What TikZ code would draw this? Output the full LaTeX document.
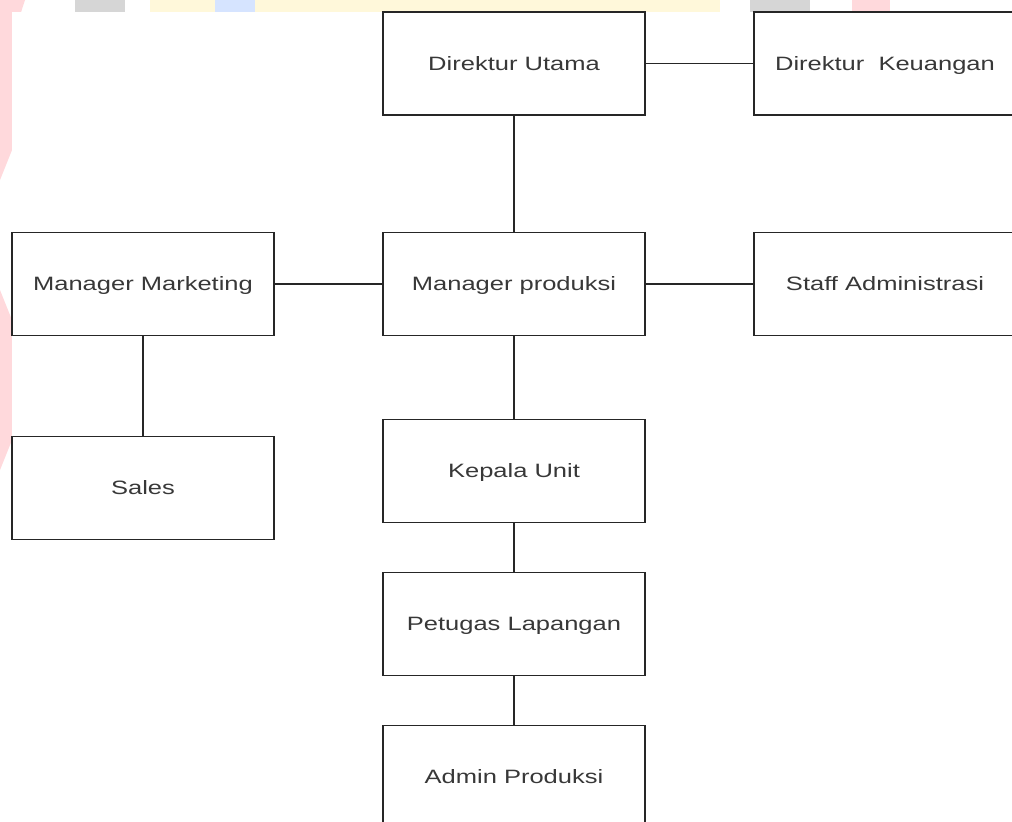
\documentclass[tikz,border=0pt]{standalone}
\usepackage{fontspec}
\setmainfont{Liberation Sans}
\newfontfamily\orgfont[FakeStretch=1.32]{Liberation Sans}
\usepackage{tikz}

\definecolor{wmpink}{HTML}{FFD9DC}
\definecolor{wmyellow}{HTML}{FFF8DA}
\definecolor{wmblue}{HTML}{D6E4FF}
\definecolor{wmgray}{HTML}{D6D6D6}

\tikzset{
    jabatan/.style={draw=black!85, line width=1.1pt, fill=white,
        minimum width=5.24cm, minimum height=2.06cm, inner sep=0pt,
        text height=7.9pt, text depth=0pt,
        font=\orgfont\fontsize{11}{13}\selectfont, text=black!78},
    garis/.style={line width=1.1pt, draw=black!85}
}

\begin{document}
\begin{tikzpicture}[x=0.02cm, y=-0.02cm]
        % Canvas
        \useasboundingbox (0,0) rectangle (1012,822);
        \fill[white] (0,0) rectangle (1012,822);

        % Watermark showing at the margins
        \fill[wmpink] (0,0) -- (25,0) -- (12,40) -- (12,150) -- (0,180) -- cycle;
        \fill[wmpink] (0,290) -- (12,320) -- (12,440) -- (0,470) -- cycle;
        \fill[wmgray] (75,0) rectangle (125,12);
        \fill[wmyellow] (150,0) rectangle (215,12);
        \fill[wmblue] (215,0) rectangle (255,12);
        \fill[wmyellow] (255,0) rectangle (720,12);
        \fill[wmgray] (750,0) rectangle (810,12);
        \fill[wmpink] (852,0) rectangle (890,12);
        \fill[white] (12,12) rectangle (1012,822);

        % Boxes
        \node[jabatan] (dirut) at (514,63.5) {Direktur Utama};
        \node[jabatan] (dirkeu) at (885,63.5) {Direktur~~Keuangan};
        \node[jabatan] (mgrmkt) at (143,284) {Manager Marketing};
        \node[jabatan] (mgrprod) at (514,284) {Manager produksi};
        \node[jabatan] (staffadm) at (885,284) {Staff Administrasi};
        \node[jabatan] (sales) at (143,488) {Sales};
        \node[jabatan] (kaunit) at (514,471) {Kepala Unit};
        \node[jabatan] (petugas) at (514,624) {Petugas Lapangan};
        \node[jabatan] (adminprod) at (514,777) {Admin Produksi};

        % Lines
        \draw[garis] (dirut) -- (dirkeu);
        \draw[garis] (dirut) -- (mgrprod);
        \draw[garis] (mgrmkt) -- (mgrprod);
        \draw[garis] (mgrprod) -- (staffadm);
        \draw[garis] (mgrmkt) -- (sales);
        \draw[garis] (mgrprod) -- (kaunit);
        \draw[garis] (kaunit) -- (petugas);
        \draw[garis] (petugas) -- (adminprod);
    \end{tikzpicture}
\end{document}
